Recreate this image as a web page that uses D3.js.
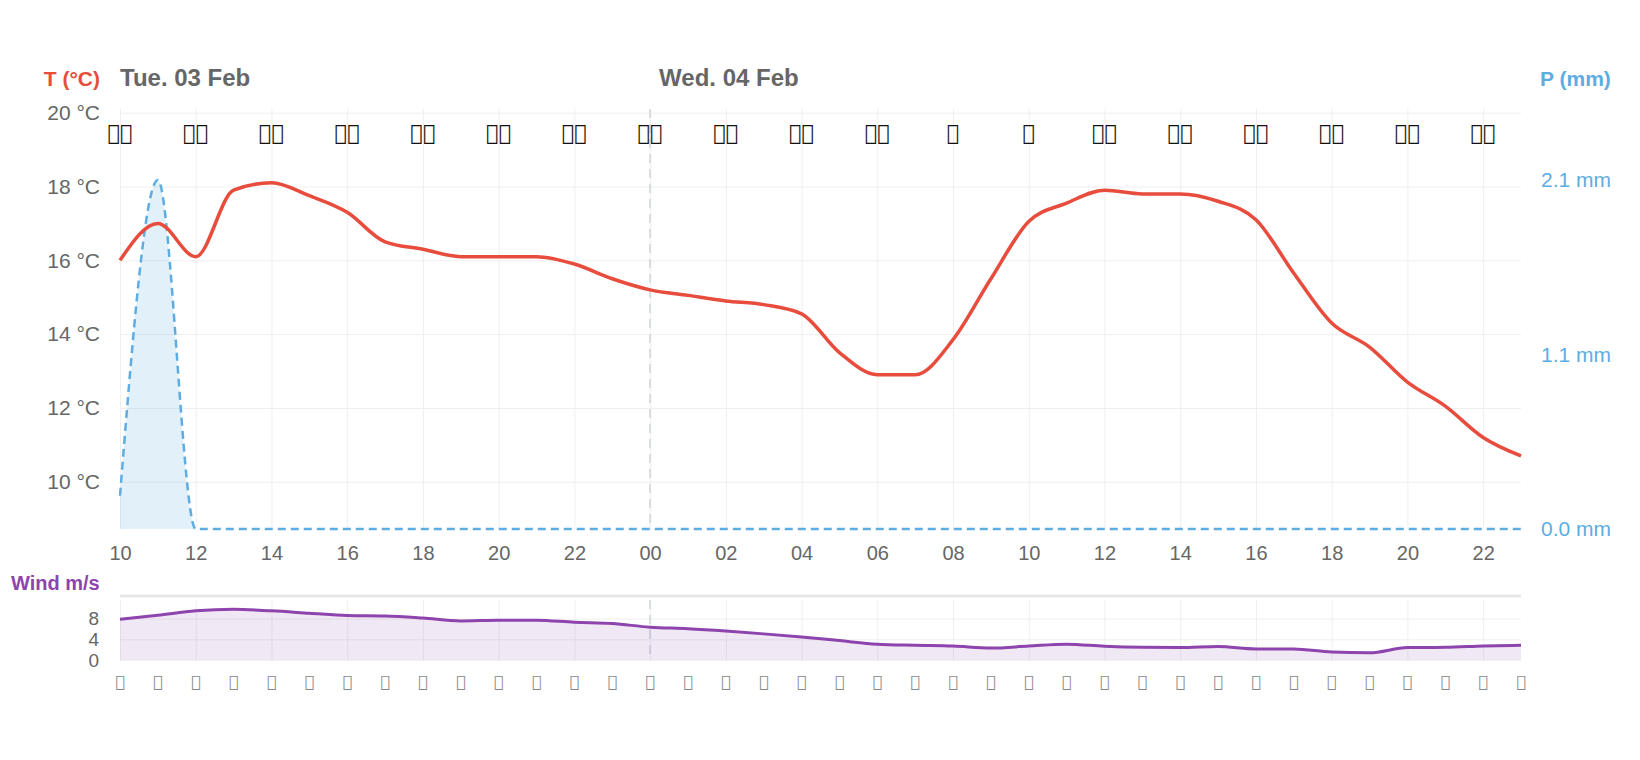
<!DOCTYPE html>
<html>
<head>
<meta charset="utf-8">
<script src="https://cdn.jsdelivr.net/npm/d3@7"></script>
<style>
  body { margin: 0; background: #fff; }
  svg { display: block; font-family: "Liberation Sans", Arial, Helvetica, sans-serif; }
  .icon { font-family: "DejaVu Sans", sans-serif; }
</style>
</head>
<body>
<script>
// hourly data, Tue 03 Feb 10:00 -> Wed 04 Feb 23:00
const startHour = new Date(2026, 1, 3, 10);
const temperature = [16.0, 17.0, 16.1, 17.9, 18.1, 17.75, 17.3, 16.5, 16.3, 16.1, 16.1, 16.1, 15.9, 15.5,
                     15.2, 15.05, 14.9, 14.8, 14.55, 13.5, 12.9, 12.9, 13.85, 15.5, 17.05, 17.55, 17.9, 17.8,
                     17.8, 17.6, 17.1, 15.65, 14.3, 13.65, 12.7, 12.05, 11.2, 10.7];
const precipitation = [0.2, 2.1, 0, 0, 0, 0, 0, 0, 0, 0, 0, 0, 0, 0,
                       0, 0, 0, 0, 0, 0, 0, 0, 0, 0, 0, 0, 0, 0,
                       0, 0, 0, 0, 0, 0, 0, 0, 0, 0];
const wind = [7.9, 8.65, 9.5, 9.8, 9.5, 9.05, 8.6, 8.5, 8.1, 7.55, 7.7, 7.7, 7.3, 7.05,
              6.35, 6.05, 5.6, 5.05, 4.45, 3.75, 3.05, 2.85, 2.7, 2.3, 2.7, 3.05, 2.65, 2.45,
              2.4, 2.6, 2.15, 2.15, 1.55, 1.4, 2.4, 2.45, 2.7, 2.85];

// icon-font glyphs (weather icons every 2 hours, wind direction every hour)
const weatherIcons = ["\uf008\uf050", "\uf013\uf050", "\uf013\uf050", "\uf013\uf050", "\uf013\uf050",
                      "\uf013\uf050", "\uf013\uf050", "\uf031\uf050", "\uf031\uf050", "\uf031\uf050",
                      "\uf031\uf050", "\uf014", "\uf014", "\uf013\uf050", "\uf013\uf050",
                      "\uf013\uf050", "\uf013\uf050", "\uf031\uf050", "\uf031\uf050"];
const windIcons = ["\uf0b1", "\uf0b1", "\uf0b1", "\uf0b1", "\uf0b1", "\uf0b1", "\uf0b1", "\uf0b1",
                   "\uf0b1", "\uf0b1", "\uf0b1", "\uf0b1", "\uf0b1", "\uf0b1", "\uf0b1", "\uf0b1",
                   "\uf0b1", "\uf0b1", "\uf0b1", "\uf0b1", "\uf0b1", "\uf0b1", "\uf0b1", "\uf0b1",
                   "\uf0b1", "\uf0b1", "\uf0b1", "\uf0b1", "\uf0b1", "\uf0b1", "\uf0b1", "\uf0b1",
                   "\uf0b1", "\uf0b1", "\uf0b1", "\uf0b1", "\uf0b1", "\uf0b1"];

const tempTicks = [10, 12, 14, 16, 18, 20];
const precipTicks = [0, 1.05, 2.1];
const windTicks = [0, 4, 8];
const dayLabels = ["Tue. 03 Feb", "Wed. 04 Feb"];

const times = temperature.map((d, i) => d3.timeHour.offset(startHour, i));
const midnight = new Date(2026, 1, 4, 0);

let width = 1640;
let height = 760;

let svg = d3.select("body").append("svg")
            .attr("width", width)
            .attr("height", height);

let x = d3.scaleTime().domain([times[0], times[times.length - 1]]).range([120, 1521]);
let yT = d3.scaleLinear().domain([8.72, 20.1]).range([529, 109]);
let yP = d3.scaleLinear().domain([0, 2.1]).range([529, 180]);
let yW = d3.scaleLinear().domain([0, 11.6]).range([660, 600]);

const red = "#e74c3c", blue = "#5dade2", purple = "#8e44ad", grey = "#666";
const twoHours = times.filter(t => t.getHours() % 2 === 0);

// main grid: horizontal lines from temperature axis
let yAxis = svg.append("g")
               .attr("transform", "translate(120,0)")
               .call(d3.axisLeft(yT).tickValues(tempTicks)
                       .tickFormat(d => d + " °C")
                       .tickSize(-1401).tickPadding(20));
yAxis.select(".domain").remove();
yAxis.selectAll("line").attr("stroke", "#efefef");
yAxis.selectAll("text").attr("fill", grey).attr("font-size", 21);

// main grid: vertical lines and hour labels
let xAxis = svg.append("g")
               .attr("transform", "translate(0,529)")
               .call(d3.axisBottom(x).tickValues(twoHours)
                       .tickFormat(d3.timeFormat("%H"))
                       .tickSize(-420).tickPadding(0));
xAxis.select(".domain").remove();
xAxis.selectAll("line").attr("stroke", "#efefef");
xAxis.selectAll("text").attr("fill", grey).attr("font-size", 20)
     .attr("y", 24).attr("dy", "0.35em");

// precipitation axis on the right
let pAxis = svg.append("g")
               .attr("transform", "translate(1521,0)")
               .call(d3.axisRight(yP).tickValues(precipTicks)
                       .tickFormat(d => d.toFixed(1) + " mm")
                       .tickSize(0).tickPadding(20));
pAxis.select(".domain").remove();
pAxis.selectAll("text").attr("fill", blue).attr("font-size", 21);

// midnight marker
svg.append("line").attr("x1", x(midnight)).attr("x2", x(midnight))
   .attr("y1", 109).attr("y2", 529)
   .attr("stroke", "#d9dcdf").attr("stroke-width", 2)
   .attr("stroke-dasharray", "9,6");

// precipitation
svg.append("path")
   .attr("d", d3.area().x((d, i) => x(times[i])).y0(yP(0)).y1(d => yP(d))
                .curve(d3.curveMonotoneX)(precipitation))
   .attr("fill", blue).attr("fill-opacity", 0.18);
svg.append("path")
   .attr("d", d3.line().x((d, i) => x(times[i])).y(d => yP(d))
                .curve(d3.curveMonotoneX)(precipitation))
   .attr("fill", "none").attr("stroke", blue).attr("stroke-width", 2.5)
   .attr("stroke-dasharray", "8,5");

// temperature
svg.append("path")
   .attr("d", d3.line().x((d, i) => x(times[i])).y(d => yT(d))
                .curve(d3.curveMonotoneX)(temperature))
   .attr("fill", "none").attr("stroke", red).attr("stroke-width", 3.5);

// weather icons
svg.append("g").attr("class", "icon").selectAll("text").data(twoHours).join("text")
   .attr("x", d => x(d)).attr("y", 133).attr("dy", "0.35em")
   .attr("text-anchor", "middle").attr("font-size", 21).attr("font-weight", "bold")
   .attr("fill", "#111")
   .text((d, i) => weatherIcons[i]);

// titles
svg.append("text").attr("x", 100).attr("y", 86).attr("text-anchor", "end")
   .attr("font-size", 21).attr("font-weight", "bold").attr("fill", red).text("T (°C)");
svg.append("text").attr("x", 1540).attr("y", 86)
   .attr("font-size", 21).attr("font-weight", "bold").attr("fill", blue).text("P (mm)");
svg.append("text").attr("x", 120).attr("y", 86)
   .attr("font-size", 24).attr("font-weight", "bold").attr("fill", grey).text(dayLabels[0]);
svg.append("text").attr("x", x(midnight) + 9).attr("y", 86)
   .attr("font-size", 24).attr("font-weight", "bold").attr("fill", grey).text(dayLabels[1]);

// wind panel
svg.append("text").attr("x", 11).attr("y", 590)
   .attr("font-size", 20).attr("font-weight", "bold").attr("fill", purple).text("Wind m/s");
svg.append("line").attr("x1", 120).attr("x2", 1521).attr("y1", 596).attr("y2", 596)
   .attr("stroke", "#e6e6e6").attr("stroke-width", 3);

let wAxis = svg.append("g")
               .attr("transform", "translate(120,0)")
               .call(d3.axisLeft(yW).tickValues(windTicks)
                       .tickSize(-1401).tickPadding(21));
wAxis.select(".domain").remove();
wAxis.selectAll("line").attr("stroke", "#efefef");
wAxis.selectAll("text").attr("fill", grey).attr("font-size", 19);

let wGrid = svg.append("g")
               .attr("transform", "translate(0,660)")
               .call(d3.axisBottom(x).tickValues(twoHours).tickSize(-60).tickFormat(""));
wGrid.select(".domain").remove();
wGrid.selectAll("line").attr("stroke", "#efefef");

svg.append("line").attr("x1", x(midnight)).attr("x2", x(midnight))
   .attr("y1", 600).attr("y2", 660)
   .attr("stroke", "#d9dcdf").attr("stroke-width", 2)
   .attr("stroke-dasharray", "9,6");

svg.append("path")
   .attr("d", d3.area().x((d, i) => x(times[i])).y0(yW(0)).y1(d => yW(d))
                .curve(d3.curveMonotoneX)(wind))
   .attr("fill", purple).attr("fill-opacity", 0.12);
svg.append("path")
   .attr("d", d3.line().x((d, i) => x(times[i])).y(d => yW(d))
                .curve(d3.curveMonotoneX)(wind))
   .attr("fill", "none").attr("stroke", purple).attr("stroke-width", 3);

svg.append("g").attr("class", "icon").selectAll("text").data(times).join("text")
   .attr("x", d => x(d)).attr("y", 681).attr("dy", "0.35em")
   .attr("text-anchor", "middle").attr("font-size", 16).attr("fill", "#888")
   .text((d, i) => windIcons[i]);
</script>
</body>
</html>
